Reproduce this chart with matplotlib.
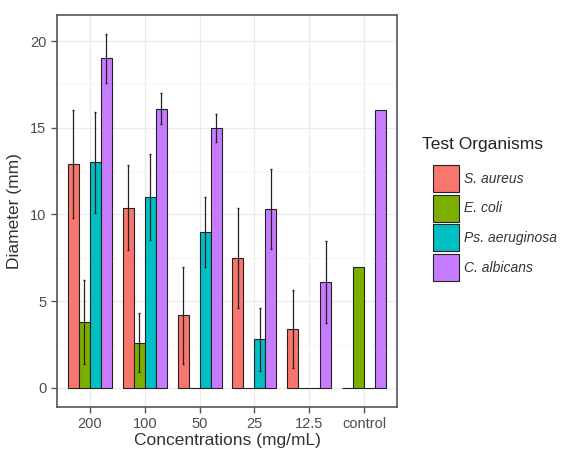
import numpy as np
import matplotlib.pyplot as plt
from matplotlib.patches import Patch
from matplotlib.ticker import MultipleLocator

plt.rcParams['font.family'] = ['Liberation Sans', 'DejaVu Sans']

concentrations = ['200', '100', '50', '25', '12.5', 'control']
organisms = ['S. aureus', 'E. coli', 'Ps. aeruginosa', 'C. albicans']
colors = ['#F8766D', '#7CAE00', '#00BFC4', '#C77CFF']

s_aureus = [12.9, 10.4, 4.2, 7.5, 3.4, 0]
e_coli = [3.8, 2.6, 0, 0, 0, 7.0]
ps_aeruginosa = [13.0, 11.0, 9.0, 2.8, 0, 0]
c_albicans = [19.0, 16.1, 15.0, 10.3, 6.1, 16.0]

s_aureus_err = [3.1, 2.45, 2.8, 2.9, 2.25, 0]
e_coli_err = [2.4, 1.7, 0, 0, 0, 0]
ps_aeruginosa_err = [2.9, 2.5, 2.0, 1.8, 0, 0]
c_albicans_err = [1.4, 0.9, 0.8, 2.3, 2.35, 0]

values = [s_aureus, e_coli, ps_aeruginosa, c_albicans]
errors = [s_aureus_err, e_coli_err, ps_aeruginosa_err, c_albicans_err]

fig = plt.figure(figsize=(5.66, 4.54), dpi=100)
ax = fig.add_axes([0.1007, 0.1035, 0.6007, 0.8635])

x = np.arange(1, len(concentrations) + 1)
w = 0.2
for i in range(4):
    xi = x + (i - 1.5) * w
    ax.bar(xi, values[i], width=w, color=colors[i], edgecolor='#222222',
           linewidth=0.8, zorder=2)
    err = np.array(errors[i])
    m = err > 0
    ax.errorbar(xi[m], np.array(values[i])[m], yerr=err[m], fmt='none',
                ecolor='#222222', elinewidth=0.9, capsize=1.0, zorder=3)

ax.set_xlim(0.4, 6.6)
ax.set_ylim(-1.1, 21.5)
ax.set_xticks(x)
ax.set_xticklabels(concentrations)
ax.yaxis.set_major_locator(MultipleLocator(5))
ax.yaxis.set_minor_locator(MultipleLocator(2.5))
ax.grid(which='major', color='#EBEBEB', linewidth=0.9, zorder=0)
ax.grid(which='minor', axis='y', color='#F4F4F4', linewidth=0.6, zorder=0)
ax.set_axisbelow(True)
for s in ax.spines.values():
    s.set_color('#555555')
    s.set_linewidth(1.2)
ax.tick_params(axis='both', which='major', colors='#555555', labelcolor='#4D4D4D',
               labelsize=10.5, length=4, width=1)
ax.tick_params(axis='y', which='minor', length=0)
ax.set_xlabel('Concentrations (mg/mL)', fontsize=12.5, color='#333333', labelpad=1)
ax.set_ylabel('Diameter (mm)', fontsize=12.5, color='#333333', labelpad=6)

# legend: title as separate text, keys below it
fig.text(422 / 566, 1 - 145 / 454, 'Test Organisms', fontsize=12.5,
         color='#222222', ha='left', va='center')
handles = [Patch(facecolor=c, edgecolor='#222222', linewidth=0.8) for c in colors]
leg = fig.legend(handles, organisms, loc='upper left',
                 bbox_to_anchor=(433 / 566, 1 - 165 / 454),
                 frameon=False, fontsize=10, handlelength=1.9, handleheight=2.6,
                 labelspacing=0.2, handletextpad=0.35, borderaxespad=0, borderpad=0)
for t in leg.get_texts():
    t.set_fontstyle('italic')
    t.set_color('#333333')

fig.savefig('out.png', dpi=100, facecolor='white')
